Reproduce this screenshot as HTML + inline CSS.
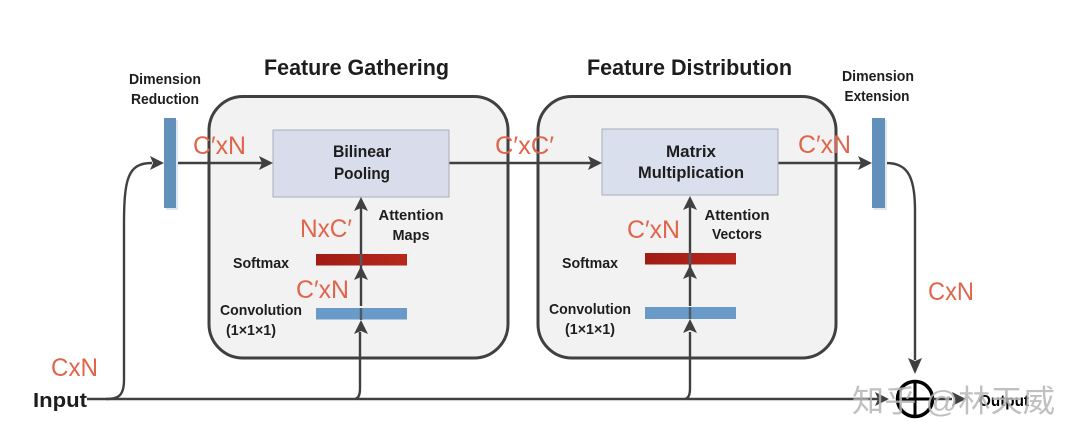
<!DOCTYPE html>
<html><head><meta charset="utf-8"><style>
html,body{margin:0;padding:0;background:#fff}
svg{display:block}
text{font-family:"Liberation Sans",sans-serif}
.b{font-weight:bold;fill:#1d1d1d}
.o{fill:#e0654a}
</style></head><body>
<svg width="1080" height="444" viewBox="0 0 1080 444" xmlns="http://www.w3.org/2000/svg">
<defs>
<linearGradient id="red" x1="0" x2="1" y1="0" y2="0"><stop offset="0" stop-color="#a01c14"/><stop offset="1" stop-color="#b7281c"/></linearGradient>
</defs>
<rect x="209" y="96.500" width="299" height="261.500" rx="34" fill="#f2f2f3" stroke="#404040" stroke-width="3"/>
<rect x="538" y="96.500" width="298" height="261.500" rx="34" fill="#f2f2f3" stroke="#404040" stroke-width="3"/>

<g fill="none" stroke="#404040" stroke-width="2.400">
<path d="M87 399H880"/>
<path d="M106 399C118 399 124 396 124 380V225C124 178 128 163 152 163"/>
<path d="M175 163H262"/>
<path d="M449 163H592"/>
<path d="M778 163H862"/>
<path d="M885 163C905 163 915 172 915 210V360"/>
<path d="M361 306V205"/>
<path d="M355 399C359 398 360 394 360 388V332"/>
<path d="M690 306V205"/>
<path d="M685 399C689 398 690 394 690 388V332"/>
</g>

<rect x="273" y="130" width="176" height="67" fill="#d9dcea" stroke="#a9adb8" stroke-width="1"/>
<rect x="602" y="129" width="176" height="66" fill="#d9dfec" stroke="#a9adb8" stroke-width="1"/>

<rect x="166" y="120" width="12" height="90" fill="#dfe7f0"/>
<rect x="164" y="118" width="12" height="90" fill="#6190bb"/>
<rect x="874" y="120" width="13" height="90" fill="#dfe7f0"/>
<rect x="872" y="118" width="13" height="90" fill="#6190bb"/>
<rect x="316" y="254" width="91" height="11.500" fill="url(#red)"/>
<rect x="316" y="308" width="91" height="11.500" fill="#699ac8"/>
<rect x="645" y="253" width="91" height="11.500" fill="url(#red)"/>
<rect x="645" y="307" width="91" height="12" fill="#699ac8"/>
<path d="M361 254V265M361 308V320M690 253V264M690 307V319" stroke="#4c5a68" stroke-width="2.400" fill="none"/>

<g fill="#404040">
<path d="M164 163L150 156L153 163L150 170Z"/>
<path d="M273 163L259 156L262 163L259 170Z"/>
<path d="M602 163L588 156L591 163L588 170Z"/>
<path d="M872 163L858 156L861 163L858 170Z"/>
<path d="M361 197L354 211L361 208L368 211Z"/>
<path d="M361 266L354 280L361 277L368 280Z"/>
<path d="M361 320L354 334L361 331L368 334Z"/>
<path d="M690 196L683 210L690 207L697 210Z"/>
<path d="M690 265L683 279L690 276L697 279Z"/>
<path d="M690 319L683 333L690 330L697 333Z"/>
<path d="M915 374L908 358L915 361L922 358Z"/>
<path d="M889 399L875 392L878 399L875 406Z"/>
<path d="M966 399L952 392L955 399L952 406Z"/>
</g>

<circle cx="915" cy="399" r="17.500" fill="#fff" stroke="#000" stroke-width="3.500"/>
<path d="M915 381V417M897 399H933" stroke="#000" stroke-width="3" fill="none"/>
<path d="M933 399H952" stroke="#404040" stroke-width="2.400" fill="none"/>

<text class="b" x="264" y="75" font-size="22" textLength="185" lengthAdjust="spacingAndGlyphs">Feature Gathering</text>
<text class="b" x="587" y="75" font-size="22" textLength="205" lengthAdjust="spacingAndGlyphs">Feature Distribution</text>
<g font-size="15" text-anchor="middle">
<text class="b" x="165" y="84" textLength="72" lengthAdjust="spacingAndGlyphs">Dimension</text>
<text class="b" x="165" y="104" textLength="68" lengthAdjust="spacingAndGlyphs">Reduction</text>
<text class="b" x="878" y="81" textLength="72" lengthAdjust="spacingAndGlyphs">Dimension</text>
<text class="b" x="877" y="101" textLength="65" lengthAdjust="spacingAndGlyphs">Extension</text>
<text class="b" x="411" y="220" textLength="65" lengthAdjust="spacingAndGlyphs">Attention</text>
<text class="b" x="411" y="240" textLength="37" lengthAdjust="spacingAndGlyphs">Maps</text>
<text class="b" x="737" y="220" textLength="65" lengthAdjust="spacingAndGlyphs">Attention</text>
<text class="b" x="737" y="239" textLength="50" lengthAdjust="spacingAndGlyphs">Vectors</text>
<text class="b" x="261" y="268" textLength="56" lengthAdjust="spacingAndGlyphs">Softmax</text>
<text class="b" x="590" y="268" textLength="56" lengthAdjust="spacingAndGlyphs">Softmax</text>
<text class="b" x="261" y="315" textLength="82" lengthAdjust="spacingAndGlyphs">Convolution</text>
<text class="b" x="251" y="335" textLength="50" lengthAdjust="spacingAndGlyphs">(1×1×1)</text>
<text class="b" x="590" y="314" textLength="82" lengthAdjust="spacingAndGlyphs">Convolution</text>
<text class="b" x="590" y="334" textLength="50" lengthAdjust="spacingAndGlyphs">(1×1×1)</text>
</g>
<g font-size="16.500" text-anchor="middle">
<text class="b" x="362" y="157" textLength="58" lengthAdjust="spacingAndGlyphs">Bilinear</text>
<text class="b" x="362" y="179" textLength="56" lengthAdjust="spacingAndGlyphs">Pooling</text>
<text class="b" x="691" y="157" textLength="50" lengthAdjust="spacingAndGlyphs">Matrix</text>
<text class="b" x="691" y="178" textLength="106" lengthAdjust="spacingAndGlyphs">Multiplication</text>
</g>
<g font-size="25">
<text class="o" x="193" y="154" textLength="53" lengthAdjust="spacingAndGlyphs">C′xN</text>
<text class="o" x="495" y="154" textLength="59" lengthAdjust="spacingAndGlyphs">C′xC′</text>
<text class="o" x="798" y="153" textLength="53" lengthAdjust="spacingAndGlyphs">C′xN</text>
<text class="o" x="300" y="237" textLength="52" lengthAdjust="spacingAndGlyphs">NxC′</text>
<text class="o" x="296" y="298" textLength="53" lengthAdjust="spacingAndGlyphs">C′xN</text>
<text class="o" x="627" y="238" textLength="53" lengthAdjust="spacingAndGlyphs">C′xN</text>
<text class="o" x="928" y="300" textLength="46" lengthAdjust="spacingAndGlyphs">CxN</text>
<text class="o" x="51" y="376" textLength="47" lengthAdjust="spacingAndGlyphs">CxN</text>
</g>
<text class="b" x="33" y="407" font-size="20" textLength="54" lengthAdjust="spacingAndGlyphs">Input</text>
<text class="b" x="979" y="406" font-size="16" textLength="50" lengthAdjust="spacingAndGlyphs" style="fill:#000">Output</text>
<text x="852" y="412" font-size="31" fill="#b5b5b5" fill-opacity=".85" style="font-family:'Liberation Sans','Noto Sans CJK SC',sans-serif" textLength="203" lengthAdjust="spacingAndGlyphs">知乎 @林天威</text>
</svg>
</body></html>
